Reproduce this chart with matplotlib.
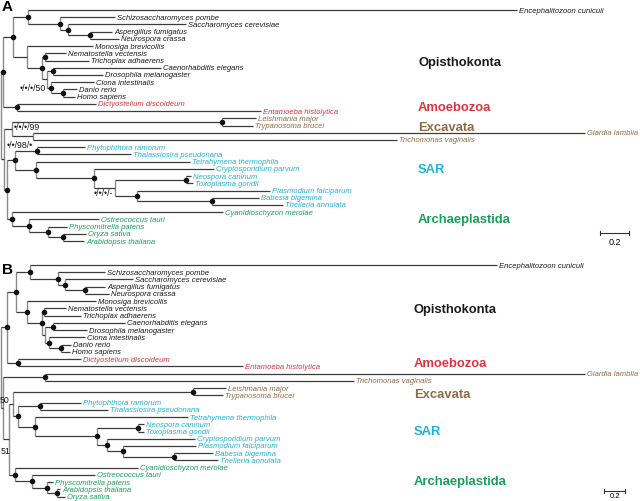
import matplotlib.pyplot as plt

# ---- panel A: taxa top to bottom, tip depth from root (subs/site) ----
a_taxa = ["Encephalitozoon cuniculi", "Schizosaccharomyces pombe", "Saccharomyces cerevisiae",
          "Aspergillus fumigatus", "Neurospora crassa", "Monosiga brevicollis",
          "Nematostella vectensis", "Trichoplax adhaerens", "Caenorhabditis elegans",
          "Drosophila melanogaster", "Ciona intestinalis", "Danio rerio", "Homo sapiens",
          "Dictyostelium discoideum", "Entamoeba histolytica", "Leishmania major",
          "Trypanosoma brucei", "Giardia lamblia", "Trichomonas vaginalis",
          "Phytophthora ramorum", "Thalassiosira pseudonana", "Tetrahymena thermophila",
          "Cryptosporidium parvum", "Neospora caninum", "Toxoplasma gondii",
          "Plasmodium falciparum", "Babesia bigemina", "Theileria annulata",
          "Cyanidioschyzon merolae", "Ostreococcus tauri", "Physcomitrella patens",
          "Oryza sativa", "Arabidopsis thaliana"]
a_tips = [3.559, 0.786, 1.276, 0.766, 0.814, 0.634, 0.448, 0.607, 1.103, 0.703, 0.641,
          0.524, 0.510, 0.655, 1.793, 1.759, 1.738, 4.030, 2.731, 0.579, 0.897, 1.303,
          1.469, 1.310, 1.324, 1.855, 1.779, 1.945, 1.531, 0.676, 0.455, 0.586, 0.572]
a_clade = ["Opi"] * 13 + ["Amo"] * 2 + ["Exc"] * 4 + ["SAR"] * 9 + ["Arc"] * 5
# internal nodes: name, depth, child, child (int = taxon index)
a_nodes = [("root", 0.000, "OA", "X"), ("OA", 0.014, "O", "Amo"), ("O", 0.083, "F1", "H"),
           ("F1", 0.186, 0, "F2"), ("F2", 0.407, 1, "F3"), ("F3", 0.462, 2, "F4"),
           ("F4", 0.614, 3, 4), ("H", 0.179, 5, "M"), ("M", 0.283, "NT", "Bil"),
           ("NT", 0.303, 6, 7), ("Bil", 0.317, "Ecd", "Deut"), ("Ecd", 0.359, 8, 9),
           ("Deut", 0.345, 10, "DH"), ("DH", 0.428, 11, 12), ("Amo", 0.110, 13, 14),
           ("X", 0.021, "Ex", "SA"), ("Ex", 0.076, "LT", "GT"), ("LT", 1.524, 15, 16),
           ("GT", 0.221, 17, 18), ("SA", 0.041, "S", "Ar"), ("S", 0.097, "Str", "Alv"),
           ("Str", 0.248, 19, 20), ("Alv", 0.241, 21, "Ap"), ("Ap", 0.641, 22, "Ap2"),
           ("Ap2", 0.786, "NTo", "Ap3"), ("NTo", 1.276, 23, 24), ("Ap3", 0.938, 25, "BT"),
           ("BT", 1.455, 26, 27), ("Ar", 0.076, 28, "V"), ("V", 0.193, 29, "E"),
           ("E", 0.324, 30, "OAr"), ("OAr", 0.428, 31, 32)]
a_dots = ["OA", "O", "F1", "F2", "F3", "F4", "M", "NT", "Ecd", "Deut", "DH", "Amo", "LT",
          "SA", "S", "Str", "Alv", "Ap", "NTo", "Ap3", "BT", "Ar", "V", "E", "OAr"]
a_support = {"Deut": "\u2022/\u2022/\u2022/50", "Ex": "\u2022/\u2022/\u2022/99",
             "X": "\u2022/\u2022/98/\u2022", "Ap2": "\u2022/\u2022/\u2022/-"}

# ---- panel B ----
b_taxa = ["Encephalitozoon cuniculi", "Schizosaccharomyces pombe", "Saccharomyces cerevisiae",
          "Aspergillus fumigatus", "Neurospora crassa", "Monosiga brevicollis",
          "Nematostella vectensis", "Trichoplax adhaerens", "Caenorhabditis elegans",
          "Drosophila melanogaster", "Ciona intestinalis", "Danio rerio", "Homo sapiens",
          "Dictyostelium discoideum", "Entamoeba histolytica", "Giardia lamblia",
          "Trichomonas vaginalis", "Leishmania major", "Trypanosoma brucei",
          "Phytophthora ramorum", "Thalassiosira pseudonana", "Tetrahymena thermophila",
          "Neospora caninum", "Toxoplasma gondii", "Cryptosporidium parvum",
          "Plasmodium falciparum", "Babesia bigemina", "Theileria annulata",
          "Cyanidioschyzon merolae", "Ostreococcus tauri", "Physcomitrella patens",
          "Arabidopsis thaliana", "Oryza sativa"]
b_tips = [4.724, 0.990, 1.257, 0.990, 1.029, 0.905, 0.619, 0.762, 1.181, 0.819, 0.800,
          0.667, 0.657, 0.762, 2.305, 5.562, 3.362, 2.143, 2.114, 0.762, 1.019, 1.781,
          1.362, 1.362, 1.848, 1.857, 2.019, 2.067, 1.305, 0.895, 0.495, 0.562, 0.610]
b_clade = ["Opi"] * 13 + ["Amo"] * 2 + ["Exc"] * 4 + ["SAR"] * 9 + ["Arc"] * 5
b_nodes = [("root", 0.000, "OA", "Z"), ("OA", 0.057, "O", "Amo"), ("O", 0.143, "F1", "H"),
           ("F1", 0.276, 0, "F2"), ("F2", 0.543, 1, "F3"), ("F3", 0.610, 2, "F4"),
           ("F4", 0.800, 3, 4), ("H", 0.248, 5, "M"), ("M", 0.390, "NT", "Bil"),
           ("NT", 0.410, 6, 7), ("Bil", 0.419, "Ecd", "Deut"), ("Ecd", 0.495, 8, 9),
           ("Deut", 0.457, 10, "DH"), ("DH", 0.571, 11, 12), ("Amo", 0.162, 13, 14),
           ("Z", 0.019, "GT", "Y"), ("GT", 0.419, 15, 16), ("Y", 0.076, "X2", "Ar"),
           ("X2", 0.114, "LT", "S"), ("LT", 1.829, 17, 18), ("S", 0.162, "Str", "Alv"),
           ("Str", 0.371, 19, 20), ("Alv", 0.324, 21, "Ap"), ("Ap", 0.914, "NTo", "Ap2"),
           ("NTo", 1.305, 22, 23), ("Ap2", 1.010, 24, "Ap3"), ("Ap3", 1.162, 25, "BT"),
           ("BT", 1.648, 26, 27), ("Ar", 0.133, 28, "V"), ("V", 0.295, 29, "E"),
           ("E", 0.438, 30, "AO"), ("AO", 0.533, 31, 32)]
b_dots = ["OA", "O", "F1", "F2", "F3", "F4", "H", "M", "NT", "Ecd", "Deut", "DH", "Amo",
          "GT", "LT", "S", "Str", "Alv", "Ap", "NTo", "Ap2", "Ap3", "BT", "Ar", "V", "E", "AO"]
b_support = {"X2": "50", "Y": "51"}

clade_names = ["Opisthokonta", "Amoebozoa", "Excavata", "SAR", "Archaeplastida"]
clade_keys = ["Opi", "Amo", "Exc", "SAR", "Arc"]
clade_colors = ["#1a1a1a", "#e0313d", "#8e6b47", "#22b2d4", "#17a05a"]
color_of = dict(zip(clade_keys, clade_colors))

plt.rcParams["font.family"] = ["Liberation Sans", "DejaVu Sans"]

fig = plt.figure(figsize=(6.4, 5.02), dpi=100)
W, H = 640, 502


def draw_tree(ax, taxa, tips, clade, nodes, dots, support, sup_pos, ppu):
    nd = {n[0]: n[1:] for n in nodes}
    step = 7.22

    def ypos(c):
        if isinstance(c, int):
            return c
        return 0.5 * (ypos(nd[c][1]) + ypos(nd[c][2]))

    def xpos(c):
        return tips[c] if isinstance(c, int) else nd[c][0]

    for name, (d, c1, c2) in nd.items():
        ax.plot([d, d], [ypos(c1), ypos(c2)], color="#8a8a8a", lw=1.0,
                solid_capstyle="butt", zorder=1)
        for c in (c1, c2):
            ax.plot([d, xpos(c)], [ypos(c), ypos(c)], color="#3c3c3c", lw=0.9,
                    solid_capstyle="butt", zorder=2)
    ax.scatter([nd[n][0] for n in dots], [ypos(n) for n in dots], s=16,
               color="#111111", zorder=3, linewidths=0)
    for i, t in enumerate(taxa):
        ax.text(tips[i] + 2.0 / ppu, i, t, fontsize=5.5, style="italic",
                color=color_of[clade[i]], va="center", ha="left")
    for n, lab in support.items():
        dx, dy, ha = sup_pos[n]
        ax.text(nd[n][0] + dx / ppu, ypos(n) + dy / step, lab, fontsize=6.3,
                ha=ha, va="center", color="#1a1a1a")


def make_axes(top_px, bot_px, first_px, step_px, px_per_unit):
    ax = fig.add_axes([0, 1 - bot_px / H, 1, (bot_px - top_px) / H])
    ax.set_xlim(-1 / px_per_unit, (W - 1) / px_per_unit)
    ax.set_ylim((bot_px - top_px - first_px) / step_px, -first_px / step_px)
    ax.axis("off")
    return ax


# panel A
axA = make_axes(0, 251, 11, 7.22, 145)
draw_tree(axA, a_taxa, a_tips, a_clade, a_nodes, a_dots, a_support,
          {"Deut": (-5, 0, "right"), "Ex": (1.5, -3, "left"),
           "X": (3, -15, "left"), "Ap2": (-2, 5, "right")}, 145)
a_lab_y = [7.2, 13.4, 16.2, 22.0, 28.9]
for nm, col, y in zip(clade_names, clade_colors, a_lab_y):
    axA.text(2.876, y, nm, fontsize=9.4, fontweight="bold", color=col, va="center")
axA.plot([4.131, 4.331], [30.9, 30.9], color="#333333", lw=0.8)
axA.plot([4.131, 4.131], [30.6, 31.2], color="#333333", lw=0.8)
axA.plot([4.331, 4.331], [30.6, 31.2], color="#333333", lw=0.8)
axA.text(4.231, 32.0, "0.2", fontsize=6.5, ha="center", va="center")
axA.text(0.005, -0.55, "A", fontsize=11, fontweight="bold", va="center")

# panel B
axB = make_axes(251, 502, 15, 7.24, 105)
draw_tree(axB, b_taxa, b_tips, b_clade, b_nodes, b_dots, b_support,
          {"X2": (-4, -4.7, "right"), "Y": (-8, 11, "left")}, 105)
b_lab_y = [6.1, 13.5, 17.8, 22.9, 29.8]
for nm, col, y in zip(clade_names, clade_colors, b_lab_y):
    axB.text(3.933, y, nm, fontsize=9.4, fontweight="bold", color=col, va="center")
axB.plot([5.743, 5.943], [31.2, 31.2], color="#333333", lw=0.8)
axB.plot([5.743, 5.743], [30.9, 31.5], color="#333333", lw=0.8)
axB.plot([5.943, 5.943], [30.9, 31.5], color="#333333", lw=0.8)
axB.text(5.843, 31.9, "0.2", fontsize=5.5, ha="center", va="center")
axB.text(0.01, 0.6, "B", fontsize=11, fontweight="bold", va="center")

fig.savefig("out.png", dpi=100)
